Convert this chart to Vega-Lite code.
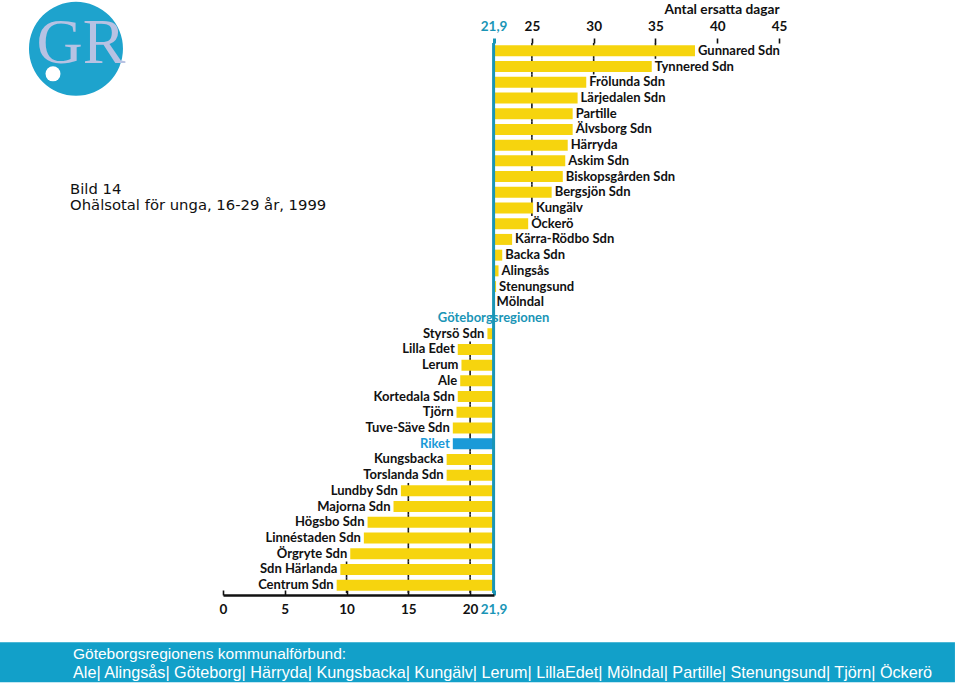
{
  "$schema": "https://vega.github.io/schema/vega-lite/v6.json",
  "width": 556,
  "height": 550,
  "autosize": {"type": "none"},
  "padding": {"left": 223, "top": 43, "right": 181, "bottom": 93},
  "background": "white",
  "config": {"view": {"stroke": null}},
  "datasets": {
    "grid": [
      {"v": 25, "name": "Gunnared Sdn"}, {"v": 25, "name": "Tynnered Sdn"}, {"v": 25, "name": "Frölunda Sdn"},
      {"v": 25, "name": "Lärjedalen Sdn"}, {"v": 25, "name": "Partille"}, {"v": 25, "name": "Älvsborg Sdn"},
      {"v": 25, "name": "Härryda"}, {"v": 25, "name": "Askim Sdn"}, {"v": 25, "name": "Biskopsgården Sdn"},
      {"v": 25, "name": "Bergsjön Sdn"}, {"v": 25, "name": "Kungälv"},
      {"v": 30, "name": "Gunnared Sdn"}, {"v": 30, "name": "Tynnered Sdn"},
      {"v": 35, "name": "Gunnared Sdn"},
      {"v": 20, "name": "Lilla Edet"}, {"v": 20, "name": "Lerum"}, {"v": 20, "name": "Ale"},
      {"v": 20, "name": "Kortedala Sdn"}, {"v": 20, "name": "Tjörn"}, {"v": 20, "name": "Tuve-Säve Sdn"},
      {"v": 20, "name": "Riket"}, {"v": 20, "name": "Kungsbacka"}, {"v": 20, "name": "Torslanda Sdn"},
      {"v": 20, "name": "Lundby Sdn"}, {"v": 20, "name": "Majorna Sdn"}, {"v": 20, "name": "Högsbo Sdn"},
      {"v": 20, "name": "Linnéstaden Sdn"}, {"v": 20, "name": "Örgryte Sdn"}, {"v": 20, "name": "Sdn Härlanda"},
      {"v": 20, "name": "Centrum Sdn"},
      {"v": 15, "name": "Lundby Sdn"}, {"v": 15, "name": "Majorna Sdn"}, {"v": 15, "name": "Högsbo Sdn"},
      {"v": 15, "name": "Linnéstaden Sdn"}, {"v": 15, "name": "Örgryte Sdn"}, {"v": 15, "name": "Sdn Härlanda"},
      {"v": 15, "name": "Centrum Sdn"},
      {"v": 10, "name": "Sdn Härlanda"}, {"v": 10, "name": "Centrum Sdn"}
    ]
  },
  "data": {"values": [
    {"name": "Gunnared Sdn", "value": 38.2},
    {"name": "Tynnered Sdn", "value": 34.7},
    {"name": "Frölunda Sdn", "value": 29.4},
    {"name": "Lärjedalen Sdn", "value": 28.7},
    {"name": "Partille", "value": 28.3},
    {"name": "Älvsborg Sdn", "value": 28.3},
    {"name": "Härryda", "value": 27.9},
    {"name": "Askim Sdn", "value": 27.7},
    {"name": "Biskopsgården Sdn", "value": 27.5},
    {"name": "Bergsjön Sdn", "value": 26.6},
    {"name": "Kungälv", "value": 25.1},
    {"name": "Öckerö", "value": 24.7},
    {"name": "Kärra-Rödbo Sdn", "value": 23.4},
    {"name": "Backa Sdn", "value": 22.6},
    {"name": "Alingsås", "value": 22.3},
    {"name": "Stenungsund", "value": 22.1},
    {"name": "Mölndal", "value": 21.9},
    {"name": "Göteborgsregionen", "value": 21.9},
    {"name": "Styrsö Sdn", "value": 21.4},
    {"name": "Lilla Edet", "value": 19.0},
    {"name": "Lerum", "value": 19.3},
    {"name": "Ale", "value": 19.2},
    {"name": "Kortedala Sdn", "value": 19.0},
    {"name": "Tjörn", "value": 18.9},
    {"name": "Tuve-Säve Sdn", "value": 18.6},
    {"name": "Riket", "value": 18.6},
    {"name": "Kungsbacka", "value": 18.1},
    {"name": "Torslanda Sdn", "value": 18.1},
    {"name": "Lundby Sdn", "value": 14.4},
    {"name": "Majorna Sdn", "value": 13.8},
    {"name": "Högsbo Sdn", "value": 11.7},
    {"name": "Linnéstaden Sdn", "value": 11.4},
    {"name": "Örgryte Sdn", "value": 10.3},
    {"name": "Sdn Härlanda", "value": 9.5},
    {"name": "Centrum Sdn", "value": 9.2}
  ]},
  "encoding": {
    "y": {
      "field": "name", "type": "nominal", "axis": null,
      "scale": {
        "domain": ["Gunnared Sdn","Tynnered Sdn","Frölunda Sdn","Lärjedalen Sdn","Partille","Älvsborg Sdn","Härryda","Askim Sdn","Biskopsgården Sdn","Bergsjön Sdn","Kungälv","Öckerö","Kärra-Rödbo Sdn","Backa Sdn","Alingsås","Stenungsund","Mölndal","Göteborgsregionen","Styrsö Sdn","Lilla Edet","Lerum","Ale","Kortedala Sdn","Tjörn","Tuve-Säve Sdn","Riket","Kungsbacka","Torslanda Sdn","Lundby Sdn","Majorna Sdn","Högsbo Sdn","Linnéstaden Sdn","Örgryte Sdn","Sdn Härlanda","Centrum Sdn"],
        "paddingInner": 0.3, "paddingOuter": 0.15
      }
    }
  },
  "layer": [
    {
      "data": {"name": "grid"},
      "mark": {"type": "tick", "color": "#1a1a1a", "thickness": 1.6, "size": 15.8, "opacity": 1},
      "encoding": {
        "x": {"field": "v", "type": "quantitative", "axis": null}
      }
    },
    {
      "mark": {"type": "bar"},
      "encoding": {
        "x": {
          "field": "value", "type": "quantitative",
          "scale": {"domain": [0, 45], "nice": false, "zero": false},
          "axis": {
            "orient": "top",
            "values": [21.9, 25, 30, 35, 40, 45],
            "labelExpr": "datum.value == 21.9 ? '21,9' : datum.label",
            "labelColor": {"condition": {"test": "datum.value == 21.9", "value": "#1a95b6"}, "value": "#111111"},
            "tickColor": {"condition": {"test": "datum.value == 21.9", "value": "#1a95b6"}, "value": "#111111"},
            "tickWidth": {"condition": {"test": "datum.value == 21.9", "value": 3}, "value": 1.6},
            "tickSize": 5,
            "domain": false,
            "grid": false,
            "labelOverlap": false,
            "labelFlush": false,
            "labelFont": "Lato",
            "labelFontWeight": "bold",
            "labelFontSize": 13.5,
            "labelPadding": 5,
            "title": "Antal ersatta dagar",
            "titleFont": "Lato",
            "titleFontWeight": "bold",
            "titleFontSize": 13.7,
            "titleColor": "#111111",
            "titleAnchor": "end",
            "titlePadding": 3
          }
        },
        "x2": {"datum": 21.9},
        "color": {"condition": {"test": "datum.name == 'Riket'", "value": "#1a9ad8"}, "value": "#f6d40e"}
      }
    },
    {
      "data": {"values": [{}]},
      "mark": {"type": "rule", "color": "#1a95b6", "strokeWidth": 3},
      "encoding": {
        "x": {
          "datum": 21.9, "type": "quantitative",
          "axis": {
            "orient": "bottom",
            "values": [0, 5, 10, 15, 20, 21.9],
            "labelExpr": "datum.value == 21.9 ? '21,9' : datum.label",
            "labelColor": {"condition": {"test": "datum.value == 21.9", "value": "#1a95b6"}, "value": "#111111"},
            "tickColor": {"condition": {"test": "datum.value == 21.9", "value": "#1a95b6"}, "value": "#111111"},
            "tickWidth": {"condition": {"test": "datum.value == 21.9", "value": 3}, "value": 1.6},
            "tickSize": -5,
            "offset": 2,
            "domain": true,
            "domainColor": "#111111",
            "domainWidth": 2.5,
            "domainDash": [271, 600],
            "grid": false,
            "labelOverlap": false,
            "labelFlush": false,
            "labelFont": "Lato",
            "labelFontWeight": "bold",
            "labelFontSize": 13.5,
            "labelPadding": 12,
            "title": null
          }
        },
        "y": null
      }
    },
    {
      "transform": [{"filter": "datum.value >= 21.9 && datum.name != 'Göteborgsregionen'"}],
      "mark": {"type": "text", "align": "left", "dx": 3, "font": "Lato", "fontWeight": "bold", "fontSize": 13, "color": "#111111"},
      "encoding": {
        "x": {"field": "value", "type": "quantitative", "axis": null},
        "text": {"field": "name"}
      }
    },
    {
      "transform": [{"filter": "datum.value < 21.9"}],
      "mark": {"type": "text", "align": "right", "dx": -3, "font": "Lato", "fontWeight": "bold", "fontSize": 13},
      "encoding": {
        "x": {"field": "value", "type": "quantitative", "axis": null},
        "text": {"field": "name"},
        "color": {"condition": {"test": "datum.name == 'Riket'", "value": "#1a9ad8"}, "value": "#111111"}
      }
    },
    {
      "transform": [{"filter": "datum.name == 'Göteborgsregionen'"}],
      "mark": {"type": "text", "align": "center", "font": "Lato", "fontWeight": "bold", "fontSize": 13, "color": "#1a95b6"},
      "encoding": {
        "x": {"field": "value", "type": "quantitative", "axis": null},
        "text": {"field": "name"}
      }
    },
    {
      "data": {"values": [{}]},
      "mark": {"type": "point", "shape": "circle", "filled": true, "size": 8836, "color": "#1ea3cd", "opacity": 1, "yOffset": -2},
      "encoding": {
        "x": {"datum": -11.9, "type": "quantitative", "axis": null},
        "y": {"datum": "Gunnared Sdn", "type": "nominal", "axis": null}
      }
    },
    {
      "data": {"values": [{"t": "GR"}]},
      "mark": {"type": "text", "align": "center", "baseline": "alphabetic", "font": "Liberation Serif", "fontSize": 64, "color": "#b7c2e3", "yOffset": 12},
      "encoding": {
        "x": {"datum": -11.5, "type": "quantitative", "axis": null},
        "y": {"datum": "Gunnared Sdn", "type": "nominal", "axis": null},
        "text": {"field": "t"}
      }
    },
    {
      "data": {"values": [{}]},
      "mark": {"type": "point", "shape": "circle", "filled": true, "size": 225, "color": "white", "opacity": 1, "yOffset": 23},
      "encoding": {
        "x": {"datum": -13.76, "type": "quantitative", "axis": null},
        "y": {"datum": "Gunnared Sdn", "type": "nominal", "axis": null}
      }
    },
    {
      "data": {"values": [{"t": "Bild 14", "row": "Bergsjön Sdn"}, {"t": "Ohälsotal för unga, 16-29 år, 1999", "row": "Kungälv"}]},
      "mark": {"type": "text", "align": "left", "baseline": "middle", "font": "DejaVu Sans", "fontSize": 14.8, "color": "#111111", "yOffset": -2},
      "encoding": {
        "x": {"datum": -12.38, "type": "quantitative", "axis": null},
        "y": {"field": "row", "type": "nominal", "axis": null},
        "text": {"field": "t"}
      }
    },
    {
      "data": {"values": [{}]},
      "mark": {"type": "rect", "color": "#12a0c9", "yOffset": 57, "y2Offset": 97},
      "encoding": {
        "x": {"datum": -18.05, "type": "quantitative", "axis": null},
        "x2": {"datum": 59.24},
        "y": {"datum": "Centrum Sdn", "type": "nominal", "axis": null},
        "y2": {"datum": "Centrum Sdn"}
      }
    },
    {
      "data": {"values": [{"t": "Göteborgsregionens kommunalförbund:"}]},
      "mark": {"type": "text", "align": "left", "baseline": "middle", "font": "Liberation Sans", "fontSize": 15.5, "color": "white", "yOffset": 69},
      "encoding": {
        "x": {"datum": -12.14, "type": "quantitative", "axis": null},
        "y": {"datum": "Centrum Sdn", "type": "nominal", "axis": null},
        "text": {"field": "t"}
      }
    },
    {
      "data": {"values": [{"t": "Ale| Alingsås| Göteborg| Härryda| Kungsbacka| Kungälv| Lerum| LillaEdet| Mölndal| Partille| Stenungsund| Tjörn| Öckerö"}]},
      "mark": {"type": "text", "align": "left", "baseline": "middle", "font": "Liberation Sans", "fontSize": 16.2, "color": "white", "yOffset": 88},
      "encoding": {
        "x": {"datum": -12.14, "type": "quantitative", "axis": null},
        "y": {"datum": "Centrum Sdn", "type": "nominal", "axis": null},
        "text": {"field": "t"}
      }
    }
  ]
}
